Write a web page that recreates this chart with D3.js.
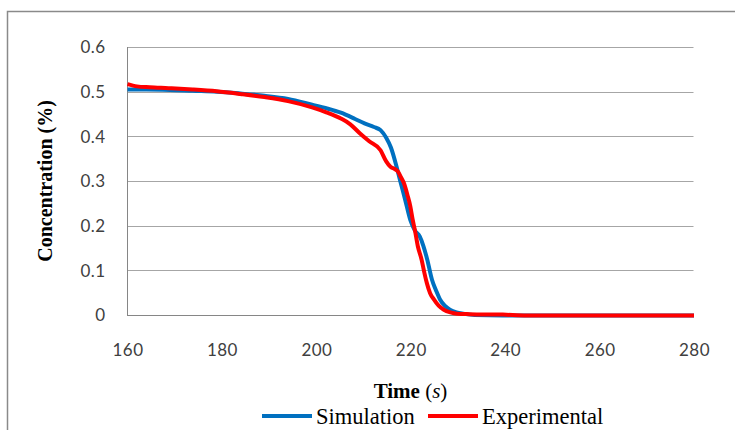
<!DOCTYPE html>
<html>
<head>
<meta charset="utf-8">
<script src="https://cdn.jsdelivr.net/npm/d3@7"></script>
<style>
  body { margin: 0; background: #fff; }
  svg { display: block; }
</style>
</head>
<body>
<div id="chart"></div>
<script>
// Tick values
const xTicks = [160, 180, 200, 220, 240, 260, 280];
const yTicks = [0, 0.1, 0.2, 0.3, 0.4, 0.5, 0.6];

// Simulation series (time s, concentration %)
const simTime = [160, 164, 169, 173.8, 178.9, 183.9, 189, 194, 199.1, 202.1, 205.2, 208.2, 210.2, 212.2, 213.6, 214.8, 215.8, 217, 217.8, 218.8, 219.9, 220.9, 221.9, 222.7, 223.5, 224.5, 225.4, 226.2, 227.2, 228.3, 229.7, 231.2, 233.5, 239.5, 249.7, 260, 270, 280];
const simValue = [0.506, 0.506, 0.505, 0.503, 0.501, 0.497, 0.492, 0.485, 0.472, 0.464, 0.454, 0.44, 0.43, 0.422, 0.415, 0.398, 0.376, 0.333, 0.3, 0.26, 0.214, 0.19, 0.177, 0.155, 0.125, 0.08, 0.055, 0.036, 0.022, 0.013, 0.007, 0.004, 0.001, 0, 0, 0, 0, 0];

// Experimental series
const expTime = [160, 162, 164.7, 168.7, 173.8, 178.9, 183.9, 189, 194, 199.1, 202.1, 205.2, 207.2, 209.2, 211.2, 213.6, 214.8, 215.7, 216.6, 217.3, 217.9, 218.6, 219.3, 219.9, 220.4, 220.9, 221.5, 222.3, 222.9, 223.4, 224.1, 224.9, 225.9, 227, 228.4, 229.8, 232.5, 239.5, 244.6, 260, 280];
const expValue = [0.518, 0.513, 0.511, 0.509, 0.506, 0.502, 0.496, 0.489, 0.48, 0.466, 0.455, 0.441, 0.428, 0.408, 0.39, 0.37, 0.345, 0.333, 0.328, 0.322, 0.31, 0.295, 0.27, 0.245, 0.215, 0.19, 0.155, 0.125, 0.095, 0.073, 0.05, 0.036, 0.022, 0.013, 0.007, 0.004, 0.003, 0.002, 0, 0, 0];

const seriesNames = ["Simulation", "Experimental"];
const seriesColors = ["#0070c0", "#ff0000"];

const W = 735, H = 430;
const margin = {top: 47, right: 41, left: 127},
    width = 566.5,
    height = 268.5;

const root = d3.select("#chart")
    .append("svg")
    .attr("width", W)
    .attr("height", H);

// Outer chart frame
root.append("rect")
    .attr("x", 7.5)
    .attr("y", 11.5)
    .attr("width", W + 20)
    .attr("height", H + 20)
    .attr("fill", "none")
    .attr("stroke", "#8a8a8a")
    .attr("stroke-width", 1.5);

const svg = root.append("g")
    .attr("transform", `translate(${margin.left},${margin.top})`);

const x = d3.scaleLinear()
    .domain([160, 280])
    .range([0.5, width + 0.5]);

const y = d3.scaleLinear()
    .domain([0, 0.6])
    .range([height, 0.5]);

// Gridlines
svg.append("g")
    .selectAll("line")
    .data(yTicks.filter(d => d > 0))
    .enter()
    .append("line")
    .attr("x1", 0)
    .attr("x2", width)
    .attr("y1", d => Math.floor(y(d)) + 0.5)
    .attr("y2", d => Math.floor(y(d)) + 0.5)
    .attr("stroke", "#a6a6a6")
    .attr("stroke-width", 1);

// Axes
const xAxis = svg.append("g")
    .attr("transform", `translate(0,${height})`)
    .call(d3.axisBottom(x).tickValues(xTicks).tickSize(0).tickPadding(28).tickFormat(d3.format("d")));

const yAxis = svg.append("g")
    .attr("transform", "translate(0.5,0)")
    .call(d3.axisLeft(y).tickValues(yTicks).tickSize(0).tickPadding(22)
        .tickFormat(d => d === 0 ? "0" : d3.format(".1f")(d)));

[xAxis, yAxis].forEach(a => {
    a.select(".domain").attr("stroke", "#868686");
    a.selectAll("text")
        .attr("fill", "#404040")
        .style("font-family", "Lato, 'Open Sans', sans-serif")
        .style("font-size", "17px")
        .style("letter-spacing", "0.4px");
});
yAxis.select(".domain").attr("d", `M0,0V${height}`);
xAxis.select(".domain").attr("d", `M0,0H${width}`);

// Lines
const line = d3.line()
    .x(d => x(d[0]))
    .y(d => y(d[1]))
    .curve(d3.curveMonotoneX);

const simData = simTime.map((t, i) => [t, simValue[i]]);
const expData = expTime.map((t, i) => [t, expValue[i]]);

[simData, expData].forEach((data, i) => {
    svg.append("path")
        .datum(data)
        .attr("fill", "none")
        .attr("stroke", seriesColors[i])
        .attr("stroke-width", 4)
        .attr("stroke-linejoin", "round")
        .attr("d", line);
});

// Axis titles
root.append("text")
    .attr("transform", "translate(52,181) rotate(-90)")
    .style("text-anchor", "middle")
    .style("font-family", "'Liberation Serif', 'Times New Roman', serif")
    .style("font-weight", "bold")
    .style("font-size", "20px")
    .text("Concentration (%)");

const xt = root.append("text")
    .attr("x", 410.5)
    .attr("y", 398)
    .style("text-anchor", "middle")
    .style("font-family", "'Liberation Serif', 'Times New Roman', serif")
    .style("font-size", "21px");
xt.append("tspan").style("font-weight", "bold").text("Time ");
xt.append("tspan").text("(");
xt.append("tspan").style("font-style", "italic").text("s");
xt.append("tspan").text(")");

// Legend
const legendX = [262, 428];
seriesNames.forEach((name, i) => {
    const g = root.append("g").attr("transform", `translate(${legendX[i]},416)`);
    g.append("line")
        .attr("x1", 0).attr("x2", 50)
        .attr("y1", 0).attr("y2", 0)
        .attr("stroke", seriesColors[i])
        .attr("stroke-width", 4);
    g.append("text")
        .attr("x", 54)
        .attr("y", 7.5)
        .style("font-family", "'Liberation Serif', 'Times New Roman', serif")
        .style("font-size", "22.5px")
        .text(name);
});
</script>
</body>
</html>
